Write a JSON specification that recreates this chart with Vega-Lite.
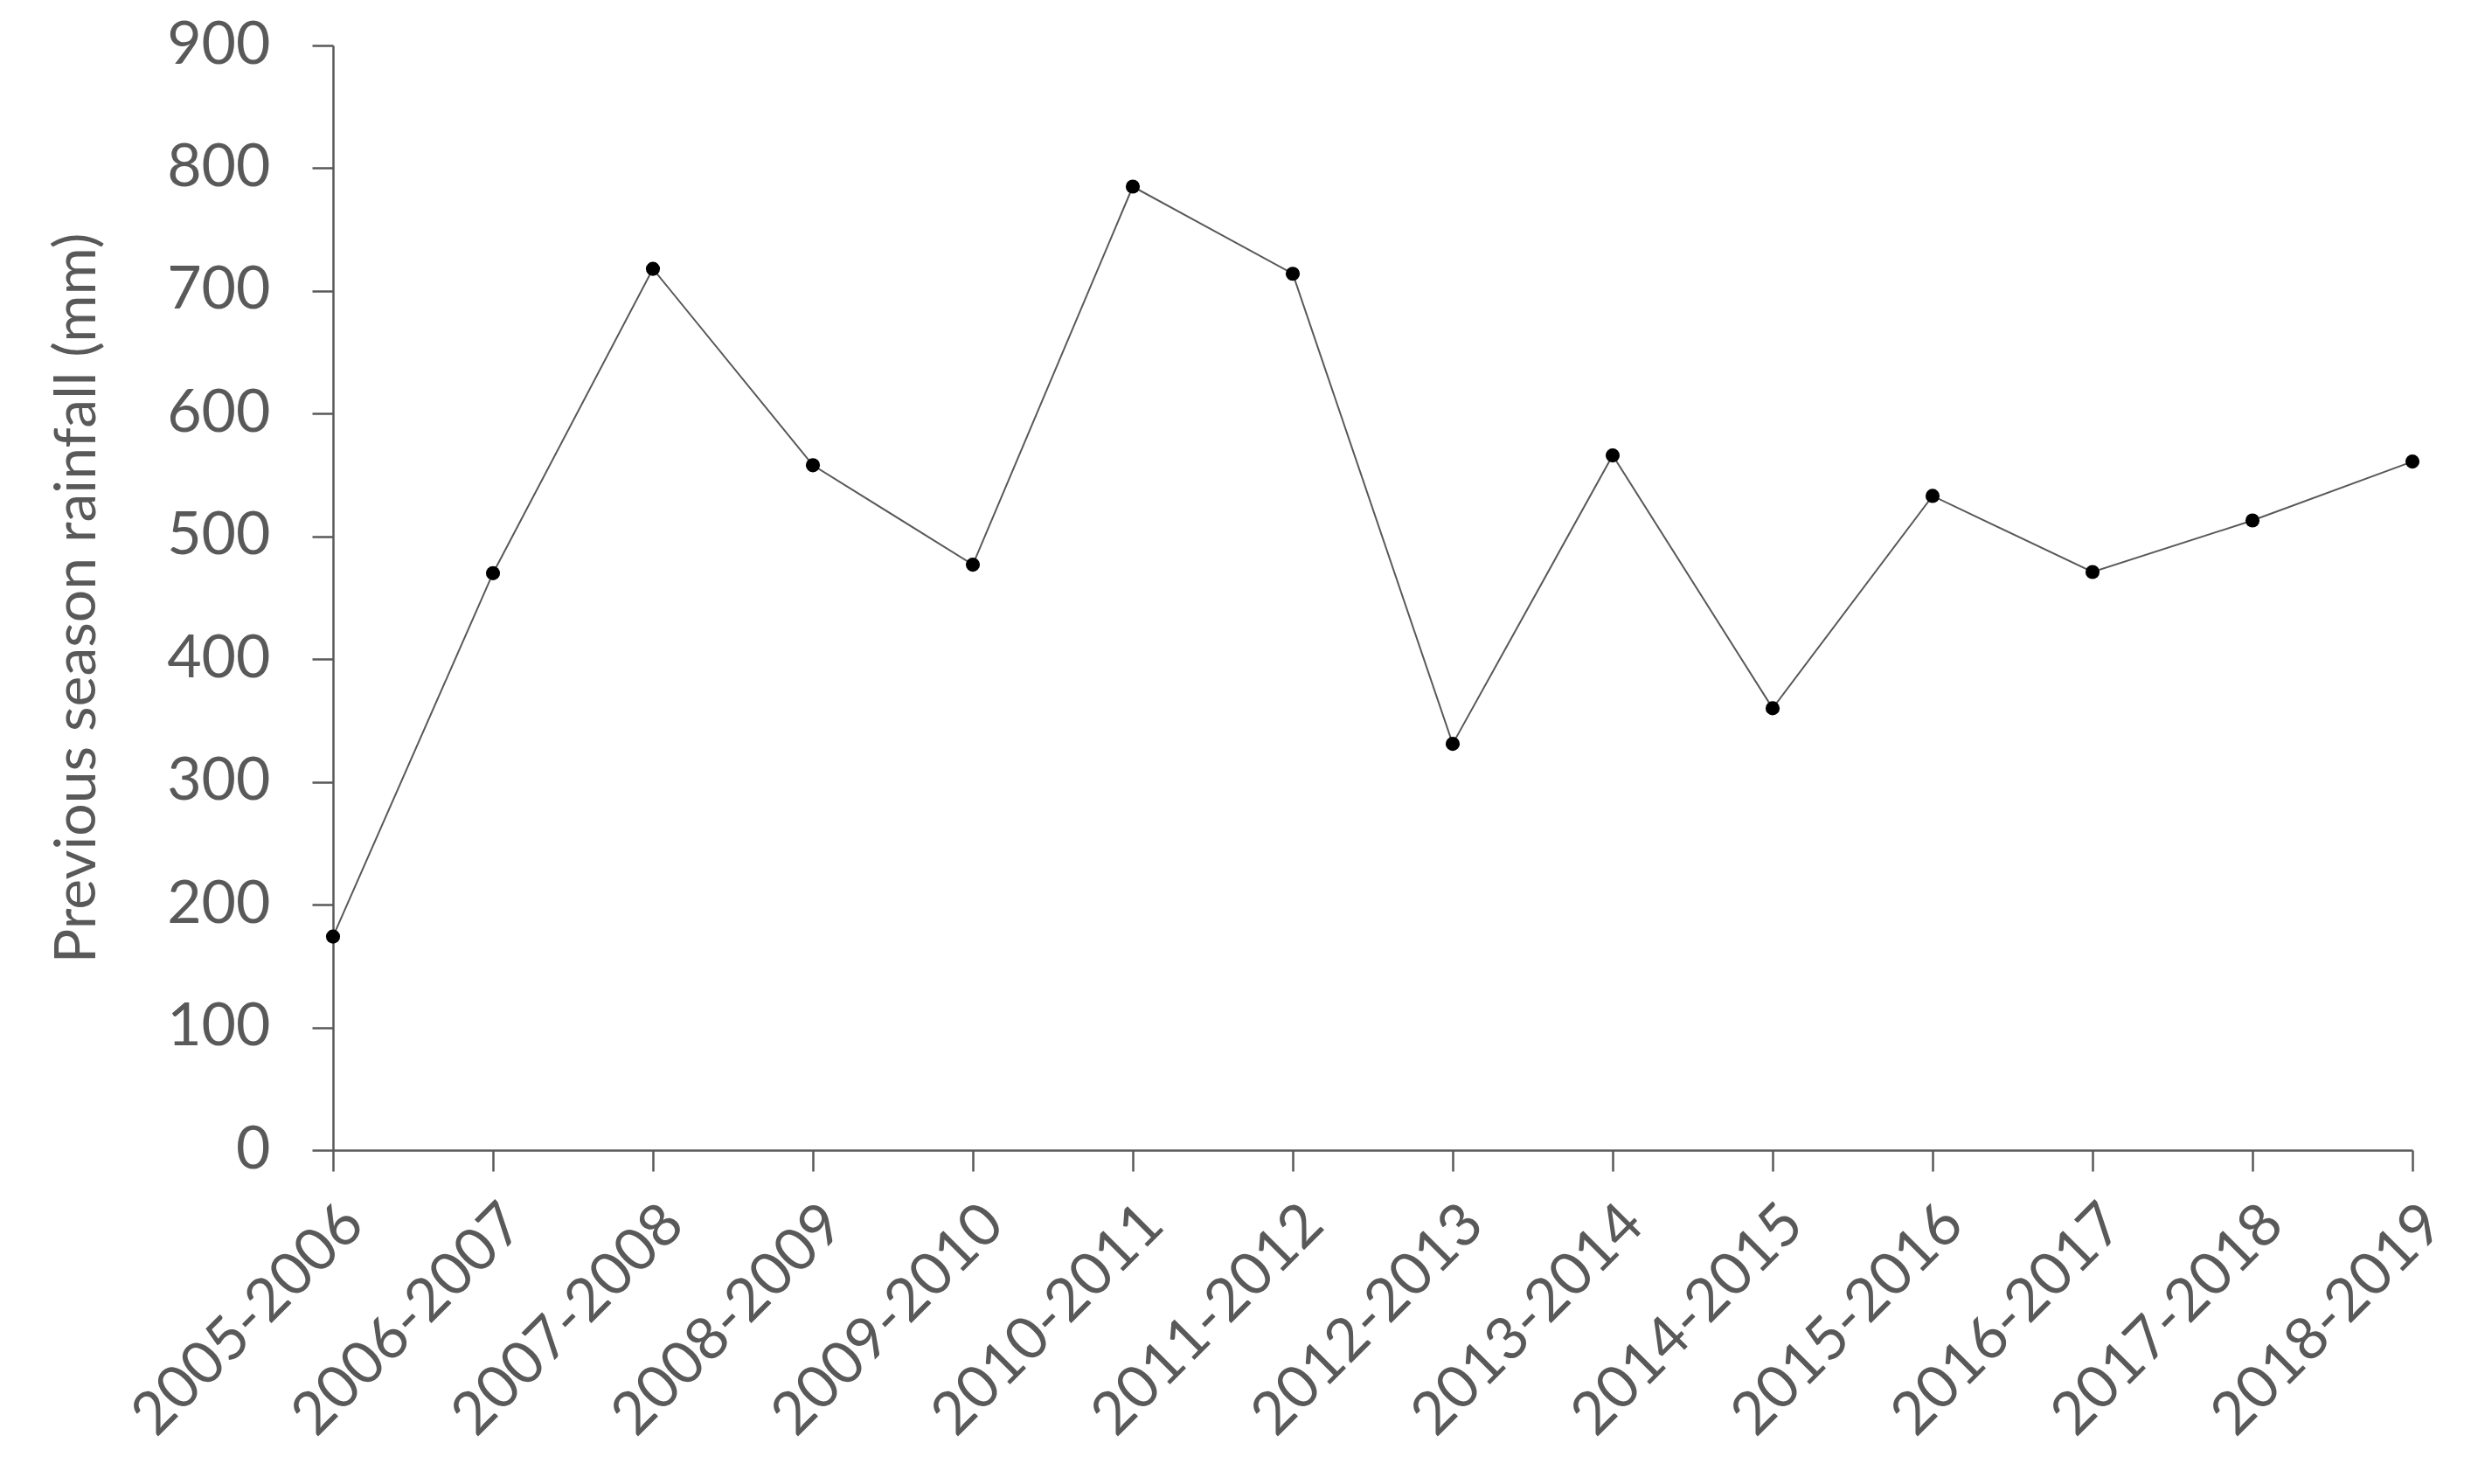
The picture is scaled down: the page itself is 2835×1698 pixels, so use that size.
{
  "$schema": "https://vega.github.io/schema/vega-lite/v6.json",
  "autosize": "none",
  "width": 2379,
  "height": 1264,
  "padding": {"left": 381, "top": 52, "right": 75, "bottom": 382},
  "background": "white",
  "config": {
    "view": {"stroke": null},
    "font": "Lato",
    "axis": {
      "grid": false,
      "domainColor": "#595959",
      "domainWidth": 2.5,
      "tickColor": "#595959",
      "tickWidth": 2.5,
      "tickSize": 24,
      "labelColor": "#595959",
      "labelFont": "Lato",
      "labelFontSize": 68,
      "labelLimit": 0,
      "titleColor": "#595959",
      "titleFont": "Lato",
      "titleFontSize": 66,
      "titleFontWeight": "normal"
    }
  },
  "data": {
    "values": [
      {"season": "2005-2006", "rainfall": 174},
      {"season": "2006-2007", "rainfall": 470},
      {"season": "2007-2008", "rainfall": 718},
      {"season": "2008-2009", "rainfall": 558},
      {"season": "2009-2010", "rainfall": 477},
      {"season": "2010-2011", "rainfall": 785},
      {"season": "2011-2012", "rainfall": 714},
      {"season": "2012-2013", "rainfall": 331},
      {"season": "2013-2014", "rainfall": 566},
      {"season": "2014-2015", "rainfall": 360},
      {"season": "2015-2016", "rainfall": 533},
      {"season": "2016-2017", "rainfall": 471},
      {"season": "2017-2018", "rainfall": 513},
      {"season": "2018-2019", "rainfall": 561}
    ]
  },
  "encoding": {
    "x": {
      "field": "season",
      "type": "ordinal",
      "scale": {"type": "point", "padding": 0},
      "axis": {"title": null, "labelAngle": -45, "labelPadding": 26}
    },
    "y": {
      "field": "rainfall",
      "type": "quantitative",
      "scale": {"domain": [0, 900], "nice": false},
      "axis": {"title": "Previous season rainfall (mm)", "values": [0,100,200,300,400,500,600,700,800,900], "labelPadding": 48, "titlePadding": 68}
    }
  },
  "layer": [
    {"mark": {"type": "line", "color": "#595959", "strokeWidth": 2}},
    {"mark": {"type": "point", "filled": true, "color": "black", "opacity": 1, "size": 260}}
  ]
}
